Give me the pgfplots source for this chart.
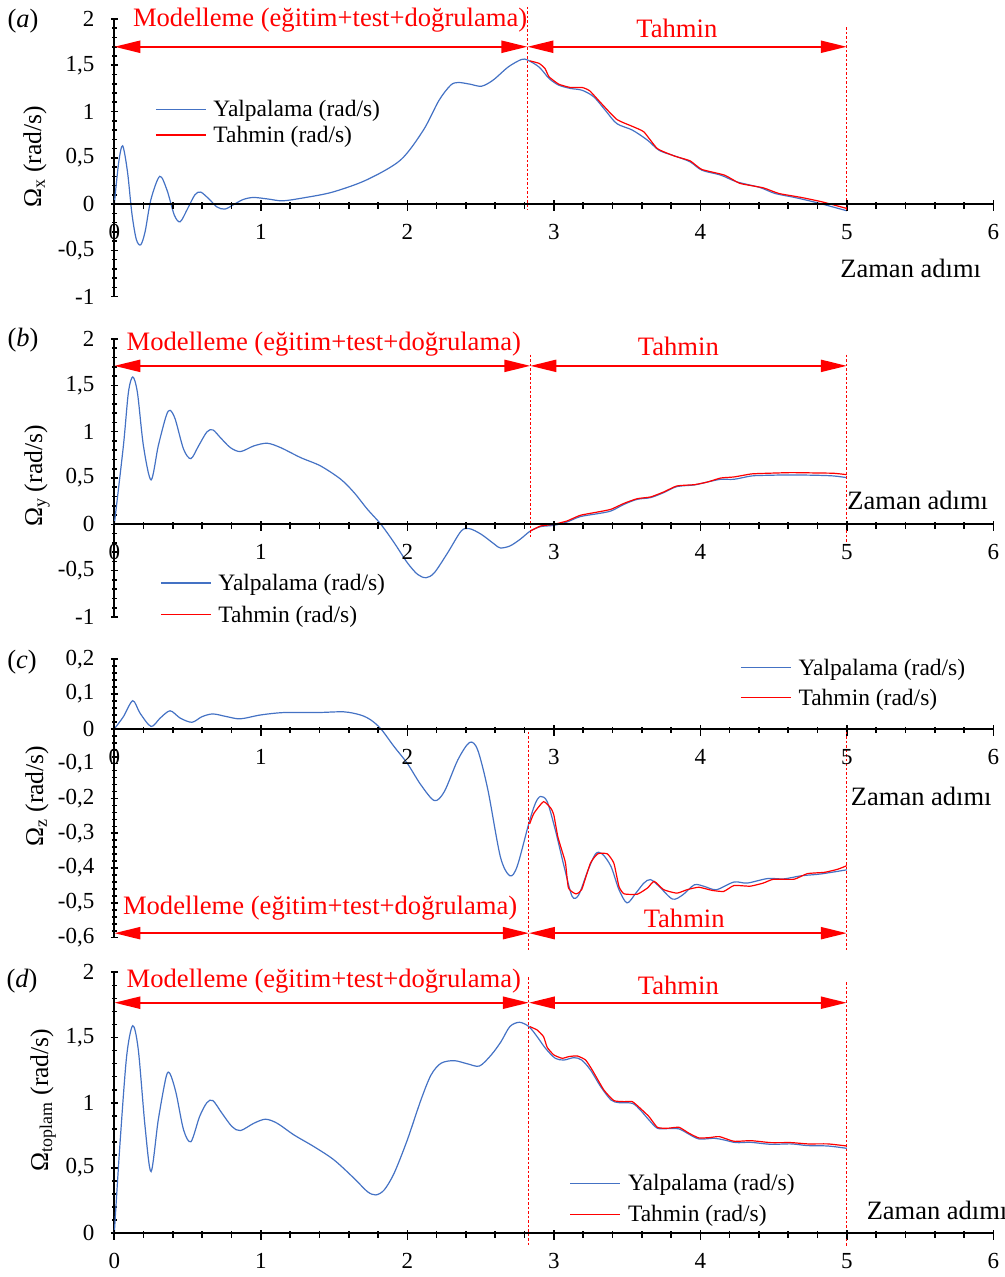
\documentclass[border=0pt]{standalone}
\usepackage{fontspec}
\setmainfont{Liberation Serif}
\usepackage{pgfplots}
\pgfplotsset{compat=1.18}
\usetikzlibrary{arrows.meta}
\definecolor{ser}{HTML}{4472C4}
\definecolor{prd}{HTML}{FF0000}
\tikzset{
  arr/.style={prd, line width=2.2pt, {Triangle[length=26pt,width=12pt]}-{Triangle[length=26pt,width=12pt]}},
  dsh/.style={prd, line width=0.9pt, dash pattern=on 2.5pt off 2pt},
  ann/.style={prd, font=\fontsize{26.6}{30}\selectfont},
  xl/.style={font=\fontsize{26.5}{30}\selectfont},
  tk/.style={black, line width=1.6pt},
}
\newcommand{\xticksat}{%
  \pgfplotsinvokeforeach{0,0.2,0.4,0.6,0.8,1.2,1.4,1.6,1.8,2.2,2.4,2.6,2.8,3.2,3.4,3.6,3.8,4.2,4.4,4.6,4.8,5.2,5.4,5.6,5.8}{\draw[tk] (axis cs:##1,0) -- ++(0pt,-4.5pt);}%
  \pgfplotsinvokeforeach{0,1,2,3,4,5,6}{\draw[tk] (axis cs:##1,0) -- ++(0pt,-7pt);}%
}
\pgfplotsset{
  common/.style={
    scale only axis, width=879pt, xmin=0, xmax=6, anchor=south west,
    tick align=outside, major tick length=7pt, minor tick length=4.5pt,
    tick style={black, line width=1.6pt},
    tick label style={font=\fontsize{23}{27}\selectfont},
    clip=false,
  },
  panel/.style={common,
    axis x line=none, axis y line=left, axis line style={-, line width=2pt},
    xtick=\empty, minor y tick num=4,
    yticklabel style={xshift=-13pt},
    every axis y label/.style={font=\fontsize{25.6}{30}\selectfont, rotate=90, anchor=center},
    legend cell align=left,
    legend image code/.code={\draw[##1] (0pt,0pt) -- (50pt,0pt);},
    legend style={draw=none, fill=none, font=\fontsize{23.5}{27}\selectfont, anchor=north west, inner sep=0pt, column sep=5pt, row sep=4pt},
  },
  xonly/.style={common, height=20pt, ymin=0, ymax=1,
    axis x line=bottom, axis y line=none, axis line style={-, line width=2pt},
    xticklabel style={yshift=-13pt},
    ytick=\empty, xtick={0,1,2,3,4,5,6}, xticklabels={0,1,2,3,4,5,6}, minor x tick num=4},
  yb/.style={ser, line width=1.2pt, smooth, tension=0.5},
  yr/.style={prd, line width=1.2pt, smooth, tension=0.3},
}
\begin{document}
\begin{tikzpicture}
\useasboundingbox (0,0) rectangle (1004pt,1277pt);
% ---------------- (a)
\begin{axis}[panel, at={(114.3pt,980.3pt)}, height=277.7pt,
  ymin=-1, ymax=2, ytick={-1,-0.5,0,0.5,1,1.5,2}, yticklabels={-1,{-0,5},0,{0,5},1,{1,5},2},
  ylabel={Ω\textsubscript{x} (rad/s)}, ylabel style={at={(axis description cs:-0.0902,0.503)}},
  legend style={at={(axis description cs:0.0463,0.715)}}]
\addplot[yb] coordinates {
(0,0) (0.03,0.45) (0.057,0.63) (0.09,0.35) (0.12,-0.1) (0.15,-0.38) (0.18,-0.44) (0.21,-0.3) (0.25,0.05) (0.31,0.30) (0.36,0.15) (0.41,-0.12) (0.45,-0.19) (0.50,-0.05) (0.55,0.10) (0.59,0.13) (0.65,0.05) (0.70,-0.03) (0.755,-0.054) (0.82,0.0) (0.88,0.05) (0.95,0.072) (1.05,0.055) (1.15,0.036) (1.3,0.07) (1.49,0.13) (1.72,0.26) (1.953,0.475) (2.11,0.80) (2.216,1.12) (2.296,1.285) (2.348,1.314) (2.427,1.296) (2.507,1.274) (2.586,1.34) (2.69,1.483) (2.78,1.563) (2.823,1.555) (2.90,1.48) (2.968,1.357) (3.034,1.285) (3.113,1.25) (3.193,1.23) (3.272,1.16) (3.351,1.015) (3.43,0.87) (3.536,0.80) (3.64,0.69) (3.72,0.58) (3.826,0.52) (3.93,0.457) (4.01,0.367) (4.14,0.313) (4.248,0.241) (4.406,0.18) (4.51,0.115) (4.644,0.072) (4.80,0.014) (5.0,-0.072)};
\addlegendentry{Yalpalama (rad/s)}
\addplot[yr] coordinates {
(2.836,1.548) (2.90,1.52) (2.94,1.465) (2.968,1.375) (3.034,1.296) (3.113,1.26) (3.193,1.26) (3.245,1.224) (3.325,1.087) (3.43,0.915) (3.536,0.84) (3.615,0.78) (3.707,0.60) (3.826,0.518) (3.93,0.468) (4.01,0.375) (4.166,0.313) (4.27,0.224) (4.43,0.176) (4.536,0.115) (4.69,0.072) (4.83,0.025) (5.0,-0.047)};
\addlegendentry{Tahmin (rad/s)}
\xticksat
\draw[dsh] (axis cs:2.82,2.13) -- (axis cs:2.82,-0.065);
\draw[dsh] (axis cs:5,1.91) -- (axis cs:5,-0.065);
\draw[arr] (axis cs:0,1.70) -- (axis cs:2.82,1.70);
\draw[arr] (axis cs:2.82,1.70) -- (axis cs:5,1.70);
\node[ann] at (axis cs:1.473,1.99) {Modelleme (eğitim+test+doğrulama)};
\node[ann] at (axis cs:3.84,1.90) {Tahmin};
\node[xl] at (axis description cs:0.906,0.102) {Zaman adımı};
\end{axis}
\begin{axis}[xonly, at={(114.3pt,1073pt)}]
\end{axis}
% ---------------- (b)
\begin{axis}[panel, at={(114.3pt,660pt)}, height=278pt,
  ymin=-1, ymax=2, ytick={-1,-0.5,0,0.5,1,1.5,2}, yticklabels={-1,{-0,5},0,{0,5},1,{1,5},2},
  ylabel={Ω\textsubscript{y} (rad/s)}, ylabel style={at={(axis description cs:-0.088,0.507)}},
  legend style={at={(axis description cs:0.052,0.162)}, row sep=10pt}]
\addplot[yb] coordinates {
(0,0) (0.062,0.846) (0.096,1.42) (0.126,1.59) (0.158,1.42) (0.199,0.846) (0.251,0.479) (0.30,0.846) (0.354,1.17) (0.381,1.23) (0.416,1.134) (0.473,0.81) (0.523,0.709) (0.575,0.846) (0.632,0.997) (0.673,1.019) (0.724,0.936) (0.792,0.828) (0.861,0.785) (0.952,0.846) (1.043,0.875) (1.135,0.828) (1.272,0.72) (1.408,0.63) (1.546,0.486) (1.637,0.342) (1.728,0.162) (1.82,0) (1.91,-0.198) (2.0,-0.414) (2.07,-0.54) (2.128,-0.576) (2.185,-0.522) (2.276,-0.306) (2.368,-0.072) (2.425,-0.047) (2.505,-0.108) (2.596,-0.216) (2.635,-0.255) (2.70,-0.234) (2.77,-0.162) (2.84,-0.072) (2.91,-0.025) (3.0,-0.011) (3.09,0.025) (3.18,0.083) (3.30,0.115) (3.39,0.144) (3.48,0.216) (3.57,0.27) (3.66,0.288) (3.75,0.342) (3.84,0.407) (3.96,0.425) (4.05,0.457) (4.14,0.486) (4.23,0.486) (4.35,0.522) (4.46,0.529) (4.62,0.533) (4.80,0.529) (4.91,0.522) (5.0,0.504)};
\addlegendentry{Yalpalama (rad/s)}
\addplot[yr] coordinates {
(2.84,-0.072) (2.91,-0.018) (3.0,0) (3.09,0.036) (3.18,0.097) (3.30,0.133) (3.39,0.162) (3.48,0.227) (3.57,0.277) (3.66,0.295) (3.75,0.349) (3.84,0.414) (3.96,0.428) (4.05,0.457) (4.14,0.500) (4.23,0.511) (4.35,0.544) (4.46,0.551) (4.62,0.558) (4.80,0.554) (4.91,0.551) (5.0,0.536)};
\addlegendentry{Tahmin (rad/s)}
\xticksat
\draw[dsh] (axis cs:2.84,1.83) -- (axis cs:2.84,-0.135);
\draw[dsh] (axis cs:5,1.83) -- (axis cs:5,-0.2);
\draw[arr] (axis cs:0,1.71) -- (axis cs:2.84,1.71);
\draw[arr] (axis cs:2.84,1.71) -- (axis cs:5,1.71);
\node[ann] at (axis cs:1.43,1.94) {Modelleme (eğitim+test+doğrulama)};
\node[ann] at (axis cs:3.85,1.92) {Tahmin};
\node[xl] at (axis description cs:0.914,0.418) {Zaman adımı};
\end{axis}
\begin{axis}[xonly, at={(114.3pt,752.5pt)}]
\end{axis}
% ---------------- (c)
\begin{axis}[panel, at={(114.3pt,339.3pt)}, height=278.4pt,
  ymin=-0.6, ymax=0.2, ytick={-0.6,-0.5,-0.4,-0.3,-0.2,-0.1,0,0.1,0.2},
  yticklabels={{-0,6},{-0,5},{-0,4},{-0,3},{-0,2},{-0,1},0,{0,1},{0,2}},
  ylabel={Ω\textsubscript{z} (rad/s)}, ylabel style={at={(axis description cs:-0.088,0.509)}},
  legend style={at={(axis description cs:0.712,1.009)}, row sep=8pt}]
\addplot[yb] coordinates {
(0,0) (0.062,0.035) (0.126,0.081) (0.176,0.045) (0.251,0.007) (0.313,0.031) (0.381,0.052) (0.45,0.031) (0.53,0.019) (0.598,0.035) (0.673,0.043) (0.77,0.035) (0.861,0.029) (0.998,0.040) (1.158,0.047) (1.386,0.047) (1.568,0.049) (1.68,0.040) (1.75,0.026) (1.82,0) (1.91,-0.051) (2.0,-0.099) (2.093,-0.161) (2.185,-0.206) (2.253,-0.18) (2.345,-0.089) (2.425,-0.039) (2.48,-0.06) (2.55,-0.175) (2.635,-0.367) (2.70,-0.422) (2.75,-0.395) (2.83,-0.271) (2.875,-0.213) (2.91,-0.194) (2.955,-0.209) (3.01,-0.29) (3.07,-0.395) (3.125,-0.481) (3.17,-0.477) (3.23,-0.41) (3.285,-0.359) (3.33,-0.359) (3.39,-0.395) (3.445,-0.462) (3.50,-0.50) (3.56,-0.472) (3.615,-0.443) (3.66,-0.433) (3.72,-0.453) (3.81,-0.489) (3.88,-0.477) (3.96,-0.448) (4.03,-0.453) (4.11,-0.462) (4.23,-0.44) (4.32,-0.443) (4.46,-0.43) (4.57,-0.431) (4.69,-0.422) (4.82,-0.417) (5.0,-0.405)};
\addlegendentry{Yalpalama (rad/s)}
\addplot[yr] coordinates {
(2.835,-0.273) (2.865,-0.242) (2.93,-0.209) (2.98,-0.228) (3.0,-0.247) (3.027,-0.309) (3.057,-0.352) (3.08,-0.386) (3.10,-0.457) (3.15,-0.474) (3.19,-0.462) (3.25,-0.386) (3.30,-0.359) (3.365,-0.359) (3.41,-0.386) (3.445,-0.453) (3.48,-0.474) (3.57,-0.475) (3.64,-0.457) (3.685,-0.438) (3.75,-0.462) (3.84,-0.472) (3.91,-0.462) (3.99,-0.455) (4.08,-0.464) (4.16,-0.467) (4.23,-0.45) (4.34,-0.452) (4.43,-0.443) (4.50,-0.432) (4.64,-0.432) (4.73,-0.416) (4.85,-0.412) (4.94,-0.403) (5.0,-0.393)};
\addlegendentry{Tahmin (rad/s)}
\xticksat
\draw[dsh] (axis cs:2.83,-0.008) -- (axis cs:2.83,-0.635);
\draw[dsh] (axis cs:5,-0.008) -- (axis cs:5,-0.635);
\draw[arr] (axis cs:0,-0.587) -- (axis cs:2.83,-0.587);
\draw[arr] (axis cs:2.83,-0.587) -- (axis cs:5,-0.587);
\node[ann] at (axis cs:1.405,-0.515) {Modelleme (eğitim+test+doğrulama)};
\node[ann] at (axis cs:3.89,-0.544) {Tahmin};
\node[xl] at (axis description cs:0.918,0.506) {Zaman adımı};
\end{axis}
\begin{axis}[xonly, at={(114.3pt,548pt)}]
\end{axis}
% ---------------- (d)
\begin{axis}[panel, at={(114.3pt,43.7pt)}, height=261pt,
  ymin=0, ymax=2, ytick={0,0.5,1,1.5,2}, yticklabels={0,{0,5},1,{1,5},2},
  ylabel={Ω\textsubscript{toplam} (rad/s)}, ylabel style={at={(axis description cs:-0.081,0.511)}},
  legend style={at={(axis description cs:0.518,0.234)}, row sep=9pt}]
\addplot[yb] coordinates {
(0,0) (0.039,0.69) (0.084,1.354) (0.126,1.591) (0.164,1.405) (0.21,0.817) (0.251,0.473) (0.30,0.868) (0.354,1.20) (0.381,1.221) (0.422,1.073) (0.473,0.792) (0.523,0.702) (0.582,0.894) (0.632,1.001) (0.673,1.017) (0.735,0.92) (0.804,0.817) (0.861,0.787) (0.952,0.843) (1.032,0.874) (1.112,0.843) (1.226,0.754) (1.363,0.664) (1.50,0.562) (1.637,0.421) (1.728,0.319) (1.785,0.294) (1.842,0.332) (1.91,0.46) (2.0,0.715) (2.093,1.022) (2.162,1.213) (2.23,1.303) (2.32,1.323) (2.413,1.298) (2.493,1.282) (2.573,1.367) (2.64,1.469) (2.70,1.584) (2.765,1.617) (2.83,1.584) (2.886,1.507) (2.943,1.418) (3.01,1.341) (3.07,1.328) (3.137,1.346) (3.19,1.328) (3.25,1.252) (3.32,1.124) (3.39,1.022) (3.445,1.001) (3.536,0.996) (3.59,0.945) (3.65,0.868) (3.707,0.805) (3.775,0.802) (3.855,0.80) (3.912,0.766) (3.99,0.723) (4.095,0.728) (4.163,0.715) (4.243,0.695) (4.345,0.697) (4.48,0.682) (4.62,0.685) (4.733,0.672) (4.87,0.669) (5.0,0.651)};
\addlegendentry{Yalpalama (rad/s)}
\addplot[yr] coordinates {
(2.836,1.584) (2.886,1.558) (2.93,1.507) (2.955,1.425) (3.0,1.367) (3.057,1.341) (3.103,1.354) (3.16,1.359) (3.217,1.328) (3.262,1.252) (3.342,1.098) (3.41,1.017) (3.48,1.009) (3.536,1.009) (3.59,0.958) (3.65,0.894) (3.707,0.812) (3.775,0.805) (3.855,0.812) (3.924,0.766) (3.99,0.731) (4.06,0.733) (4.13,0.741) (4.23,0.705) (4.345,0.71) (4.48,0.695) (4.62,0.695) (4.733,0.685) (4.87,0.685) (5.0,0.669)};
\addlegendentry{Tahmin (rad/s)}
\xticksat
\draw[dsh] (axis cs:2.83,1.963) -- (axis cs:2.83,-0.10);
\draw[dsh] (axis cs:5,1.925) -- (axis cs:5,-0.10);
\draw[arr] (axis cs:0,1.767) -- (axis cs:2.83,1.767);
\draw[arr] (axis cs:2.83,1.767) -- (axis cs:5,1.767);
\node[ann] at (axis cs:1.43,1.93) {Modelleme (eğitim+test+doğrulama)};
\node[ann] at (axis cs:3.85,1.90) {Tahmin};
\node[xl] at (axis description cs:0.936,0.089) {Zaman adımı};
\end{axis}
\begin{axis}[xonly, at={(114.3pt,43.7pt)}]
\end{axis}
\node[font=\fontsize{26.5}{30}\selectfont] at (23pt,1256pt) {(\textit{a})};
\node[font=\fontsize{26.5}{30}\selectfont] at (23pt,937pt) {(\textit{b})};
\node[font=\fontsize{26.5}{30}\selectfont] at (22pt,615pt) {(\textit{c})};
\node[font=\fontsize{26.5}{30}\selectfont] at (22pt,296pt) {(\textit{d})};
\end{tikzpicture}
\end{document}
